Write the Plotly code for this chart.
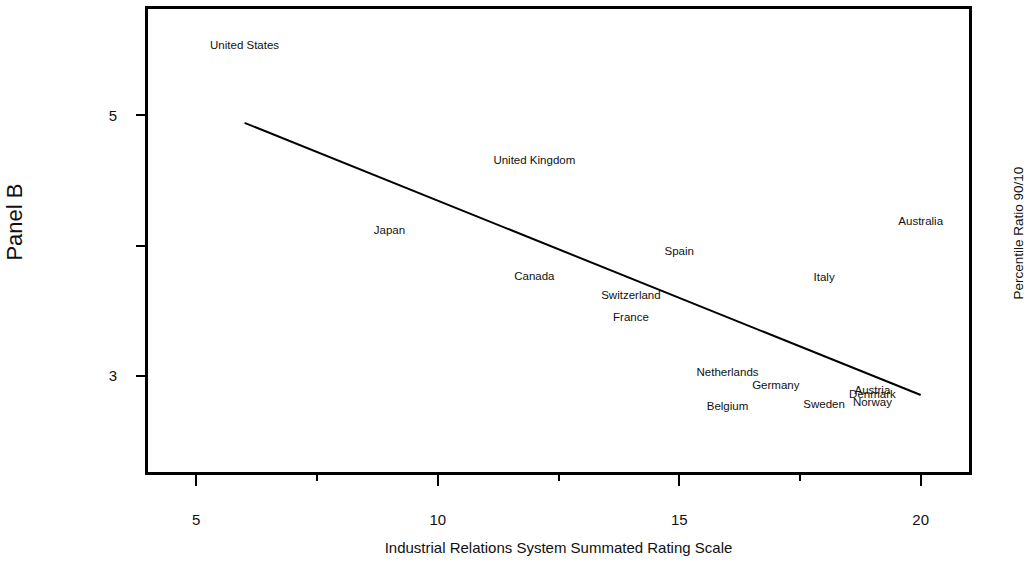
import numpy as np
import plotly.graph_objects as go

# Country scores: industrial-relations rating vs. 90/10 earnings ratio
countries = ["United States", "United Kingdom", "Japan", "Australia", "Spain",
             "Canada", "Italy", "Switzerland", "France", "Netherlands",
             "Germany", "Belgium", "Sweden", "Austria", "Denmark", "Norway"]
rating = [6, 12, 9, 20, 15, 12, 18, 14, 14, 16, 17, 16, 18, 19, 19, 19]
ratio_90_10 = [5.53, 4.65, 4.11, 4.18, 3.95, 3.76, 3.75, 3.61, 3.44, 3.02,
               2.92, 2.76, 2.77, 2.88, 2.85, 2.79]

x_major = [5, 10, 15, 20]
x_minor = [7.5, 12.5, 17.5]
y_ticks = [3, 4, 5]
y_tick_text = ["3", "", "5"]

# Least-squares fit across the observed rating span
slope, intercept = np.polyfit(rating, ratio_90_10, 1)
fit_x = np.linspace(min(rating), max(rating), 60)
fit_y = intercept + slope * fit_x

FONT = "Liberation Sans, Arial, sans-serif"

fig = go.Figure()
fig.add_trace(go.Scatter(
    x=fit_x, y=fit_y, mode="lines",
    line=dict(color="black", width=2), hoverinfo="skip", showlegend=False,
))
fig.add_trace(go.Scatter(
    x=rating, y=ratio_90_10, mode="text", text=countries,
    textposition="middle center",
    textfont=dict(family=FONT, size=11.5, color="#111"),
    showlegend=False,
))

W, H = 1024, 561
L, R, T, B = 148, 55, 6, 89
pw = W - L - R
ph = H - T - B

fig.update_layout(
    width=W, height=H,
    margin=dict(l=L, r=R, t=T, b=B, pad=0),
    paper_bgcolor="white", plot_bgcolor="white",
    font=dict(family=FONT, color="#111"),
    xaxis=dict(
        range=[4, 21], tickmode="array", tickvals=x_major,
        ticktext=[str(v) for v in x_major],
        ticks="outside", ticklen=11, tickwidth=2, tickcolor="black",
        minor=dict(tickmode="array", tickvals=x_minor, ticks="outside",
                   ticklen=6, tickwidth=2, tickcolor="black", showgrid=False),
        showline=True, linewidth=3, linecolor="black", mirror=True,
        showgrid=False, zeroline=False,
        tickfont=dict(size=15, color="#111"), ticklabelstandoff=21,
        title=dict(text="Industrial Relations System Summated Rating Scale",
                   font=dict(size=15, color="#111"), standoff=16),
    ),
    yaxis=dict(
        range=[2.26, 5.817], tickmode="array", tickvals=y_ticks, ticktext=y_tick_text,
        ticks="outside", ticklen=9, tickwidth=2, tickcolor="black",
        showline=True, linewidth=3, linecolor="black", mirror=True,
        showgrid=False, zeroline=False,
        tickfont=dict(size=15, color="#111"), ticklabelstandoff=16,
    ),
    annotations=[
        dict(text="Panel B", textangle=-90, showarrow=False,
             xref="paper", yref="paper",
             x=(15 - L) / pw, y=1 - (221 - T) / ph,
             xanchor="center", yanchor="middle",
             font=dict(size=22, color="#111")),
        dict(text="Percentile Ratio 90/10", textangle=-90, showarrow=False,
             xref="paper", yref="paper",
             x=(1019 - L) / pw, y=1 - (232 - T) / ph,
             xanchor="center", yanchor="middle",
             font=dict(size=13.5, color="#111")),
    ],
)

fig.write_html("out.html")
